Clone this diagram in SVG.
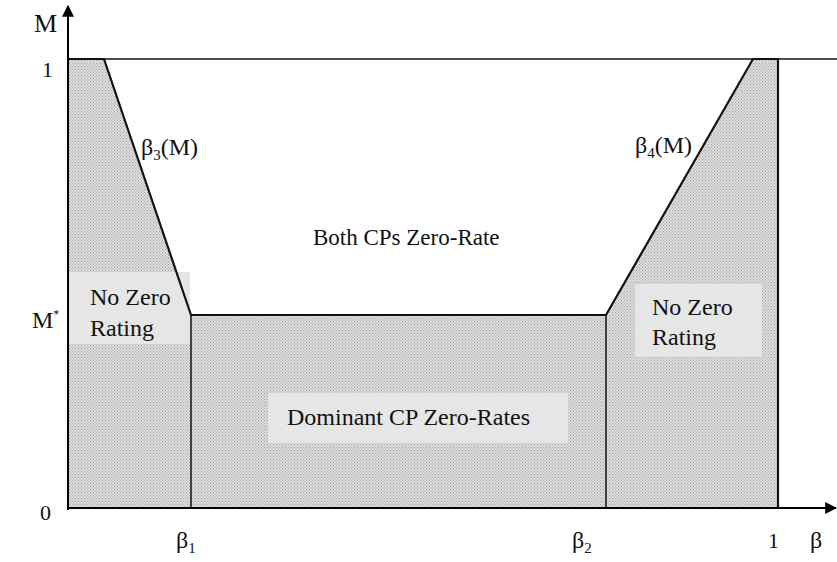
<svg xmlns="http://www.w3.org/2000/svg" width="837" height="562" viewBox="0 0 837 562">
<defs>
<pattern id="dots" width="3" height="3" patternUnits="userSpaceOnUse">
<rect width="3" height="3" fill="#dedede"/>
<rect width="1" height="1" fill="#a0a0a0"/>
<rect x="1.5" y="1.5" width="1" height="1" fill="#a0a0a0"/>
</pattern>
<marker id="arr" viewBox="0 0 10 10" refX="9" refY="5" markerWidth="12" markerHeight="12" orient="auto" markerUnits="userSpaceOnUse">
<path d="M0,0 L10,5 L0,10 z" fill="#000"/>
</marker>
</defs>
<style>
text{font-family:"Liberation Serif","Times New Roman",serif;fill:#111}
.lbl{font-size:24px}
.sub{font-size:15px}
.box{fill:#e6e6e6}
.edge{fill:none;stroke:#111;stroke-width:2.2}
.thin{fill:none;stroke:#111;stroke-width:1.5}
</style>
<g id="region">
<polygon points="68,59 104,59 191,315 606,315 753,59 778,59 778,508 68,508" fill="url(#dots)"/>
</g>
<g id="boxes">
<rect id="box-left" class="box" x="69" y="272" width="121" height="72"/>
<rect id="box-right" class="box" x="635" y="284" width="127" height="73"/>
<rect id="box-dom" class="box" x="268" y="393" width="300" height="50"/>
</g>
<g id="connectors">
<line class="thin" x1="68" y1="59" x2="837" y2="59"/>
<polyline class="edge" points="68,59 104,59 191,315 606,315 753,59 778,59 778,508"/>
<line class="thin" x1="191" y1="315" x2="191" y2="508"/>
<line class="thin" x1="606" y1="315" x2="606" y2="508"/>
<line x1="68" y1="510" x2="68" y2="6" stroke="#000" stroke-width="2" marker-end="url(#arr)"/>
<line x1="67" y1="508" x2="836" y2="508" stroke="#000" stroke-width="2" marker-end="url(#arr)"/>
</g>
<g id="labels">
<text class="lbl" x="34" y="32" style="font-size:26px">M</text>
<text class="lbl" x="42" y="77" style="font-size:22px">1</text>
<text class="lbl" x="32" y="328">M<tspan style="font-size:12px" dy="-10">*</tspan></text>
<text class="lbl" x="40" y="520" style="font-size:22px">0</text>
<text class="lbl" x="176" y="548">β<tspan class="sub" dy="5">1</tspan></text>
<text class="lbl" x="572" y="548">β<tspan class="sub" dy="5">2</tspan></text>
<text class="lbl" x="768" y="548" style="font-size:22px">1</text>
<text class="lbl" x="810" y="548">β</text>
<text class="lbl" x="141" y="155">β<tspan class="sub" dy="5">3</tspan><tspan dy="-5">(M)</tspan></text>
<text class="lbl" x="635" y="153">β<tspan class="sub" dy="5">4</tspan><tspan dy="-5">(M)</tspan></text>
<text class="lbl" x="313" y="245" style="font-size:23px">Both CPs Zero-Rate</text>
<text class="lbl" x="90" y="305">No Zero</text>
<text class="lbl" x="90" y="336">Rating</text>
<text class="lbl" x="652" y="315">No Zero</text>
<text class="lbl" x="652" y="345">Rating</text>
<text class="lbl" x="287" y="425">Dominant  CP Zero-Rates</text>
</g>
</svg>
